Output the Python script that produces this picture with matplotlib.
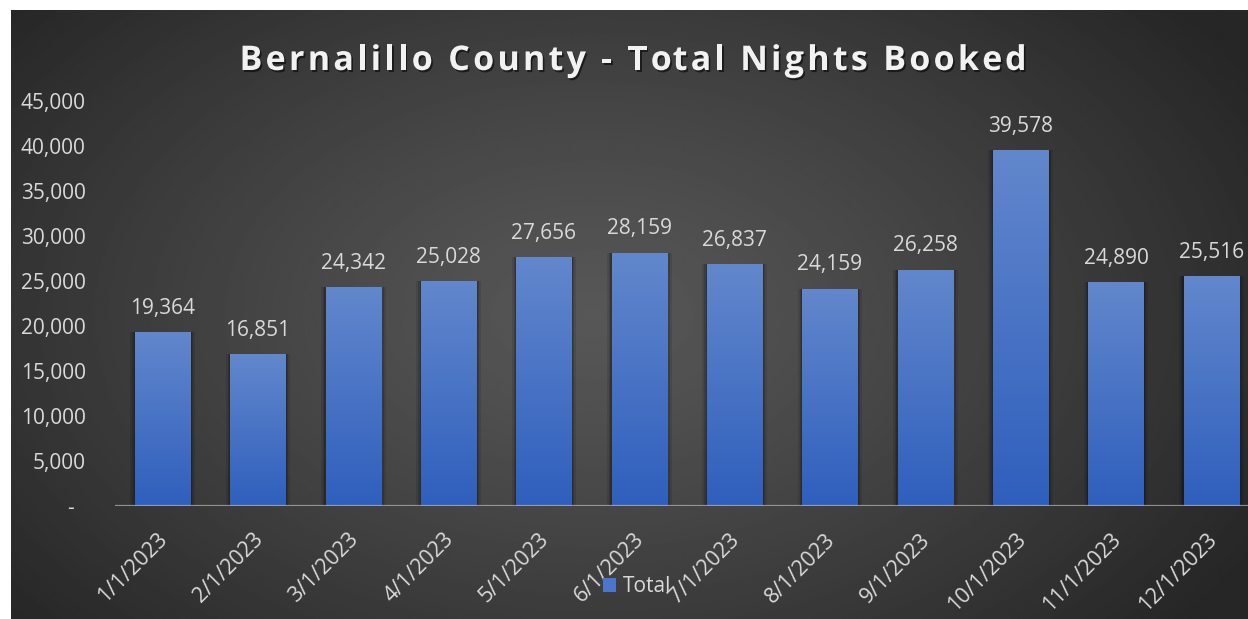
"""Bernalillo County - total nights booked, monthly bars."""
import numpy as np
import matplotlib
matplotlib.use("Agg")
import matplotlib.pyplot as plt
import matplotlib.patheffects as pe
from matplotlib.colors import LinearSegmentedColormap
from matplotlib.patches import Patch
from matplotlib.transforms import ScaledTranslation

months = ["1/1/2023", "2/1/2023", "3/1/2023", "4/1/2023", "5/1/2023",
          "6/1/2023", "7/1/2023", "8/1/2023", "9/1/2023", "10/1/2023",
          "11/1/2023", "12/1/2023"]
nights = [19364, 16851, 24342, 25028, 27656, 28159,
          26837, 24159, 26258, 39578, 24890, 25516]
y_ticks = [0, 5000, 10000, 15000, 20000, 25000, 30000, 35000, 40000, 45000]
y_tick_labels = ["-  ", "5,000", "10,000", "15,000", "20,000", "25,000",
                 "30,000", "35,000", "40,000", "45,000"]
title = "Bernalillo County - Total Nights Booked"
series_name = "Total"

W, H, DPI = 1248, 619, 100
FONT = ["Open Sans", "DejaVu Sans"]
TEXT_COLOR = "#d9d9d9"
plt.rcParams["font.family"] = FONT

fig = plt.figure(figsize=(W / DPI, H / DPI), dpi=DPI, facecolor="white")

# dark radial background (white margin on top and left like the screenshot)
bg = fig.add_axes([11 / W, 0, 1 - 11 / W, 1 - 10 / H], zorder=-1)
bg.set_axis_off()
yy, xx = np.mgrid[0:1:300j, 0:1:600j]
r = np.sqrt(((xx - 0.47) / 0.62) ** 2 + ((yy - 0.5) / 0.8) ** 2)
shade = 0x57 - (0x57 - 0x26) * np.clip(r / 1.0, 0, 1) ** 1.2
bg.imshow(shade / 255, cmap="gray", vmin=0, vmax=1, aspect="auto",
          extent=[0, 1, 0, 1], interpolation="bilinear")
bg.set_xlim(0, 1)
bg.set_ylim(0, 1)

ax = fig.add_axes([115 / W, 113 / H, 1144 / W, 405 / H])
ax.patch.set_alpha(0)
for spine in ax.spines.values():
    spine.set_visible(False)

x = np.arange(len(months))
width = 0.577
bar_cmap = LinearSegmentedColormap.from_list("bar", ["#2f5fbd", "#6287cc"])
grad = np.linspace(0, 1, 256).reshape(-1, 1)

# soft shadow behind bars
for extra, alpha in [(0.10, 0.10), (0.06, 0.14), (0.03, 0.18)]:
    ax.bar(x, nights, width=width + extra, color="black", alpha=alpha,
           zorder=1, linewidth=0)

bars = ax.bar(x, nights, width=width, color="#4472c4", zorder=2, linewidth=0)
for bar in bars:
    bx, bw, bh = bar.get_x(), bar.get_width(), bar.get_height()
    im = ax.imshow(grad, cmap=bar_cmap, origin="lower", aspect="auto",
                   extent=[bx, bx + bw, 0, bh], zorder=3)
    im.set_clip_path(bar)

for xi, v in zip(x, nights):
    ax.annotate(f"{v:,}", (xi, v), xytext=(0, 9.5), textcoords="offset points",
                ha="center", va="bottom", fontsize=15, color=TEXT_COLOR)

ax.axhline(0, color="#b0b0b0", lw=1.6, alpha=0.75, zorder=5)

ax.set_xlim(-0.5, len(months) - 0.5)
ax.set_ylim(0, 45000)
ax.set_yticks(y_ticks, y_tick_labels)
ax.set_xticks(x, months, rotation=45, ha="right", va="center",
              rotation_mode="anchor")
ax.tick_params(axis="y", length=0, pad=21, labelsize=15, labelcolor=TEXT_COLOR)
ax.tick_params(axis="x", length=0, pad=22, labelsize=15.5,
               labelcolor=TEXT_COLOR)
shift = ScaledTranslation(2 / DPI, 0, fig.dpi_scale_trans)
for label in ax.get_xticklabels():
    label.set_transform(label.get_transform() + shift)

fig.legend(handles=[Patch(facecolor="#4a76cb")], labels=[series_name],
           loc="center", bbox_to_anchor=(637 / W, 1 - 587 / H),
           frameon=False, fontsize=15, labelcolor=TEXT_COLOR,
           handlelength=0.65, handleheight=0.65, handletextpad=0.3)

# letter-spaced bold title
title_style = dict(fontsize=24.5, fontweight="bold", color="#f2f2f2",
                   family=FONT)
renderer = fig.canvas.get_renderer()


def text_width(s):
    t = fig.text(0, 0, s + "|", **title_style)
    w = t.get_window_extent(renderer).width
    t.remove()
    return w


base = text_width("")
advances = [text_width(title[:i]) - base for i in range(len(title) + 1)]
target = 787
spacing = (target - advances[-1]) / (len(title) - 1)
x0 = 633 - target / 2
shadow = [pe.SimplePatchShadow(offset=(1.2, -1.5), shadow_rgbFace="black",
                               alpha=0.55), pe.Normal()]
for i, ch in enumerate(title):
    if ch == " ":
        continue
    fig.text((x0 + advances[i] + i * spacing) / W, 1 - 70 / H, ch,
             va="baseline", ha="left", path_effects=shadow, **title_style)

fig.savefig("out.png", dpi=DPI, facecolor="white")
